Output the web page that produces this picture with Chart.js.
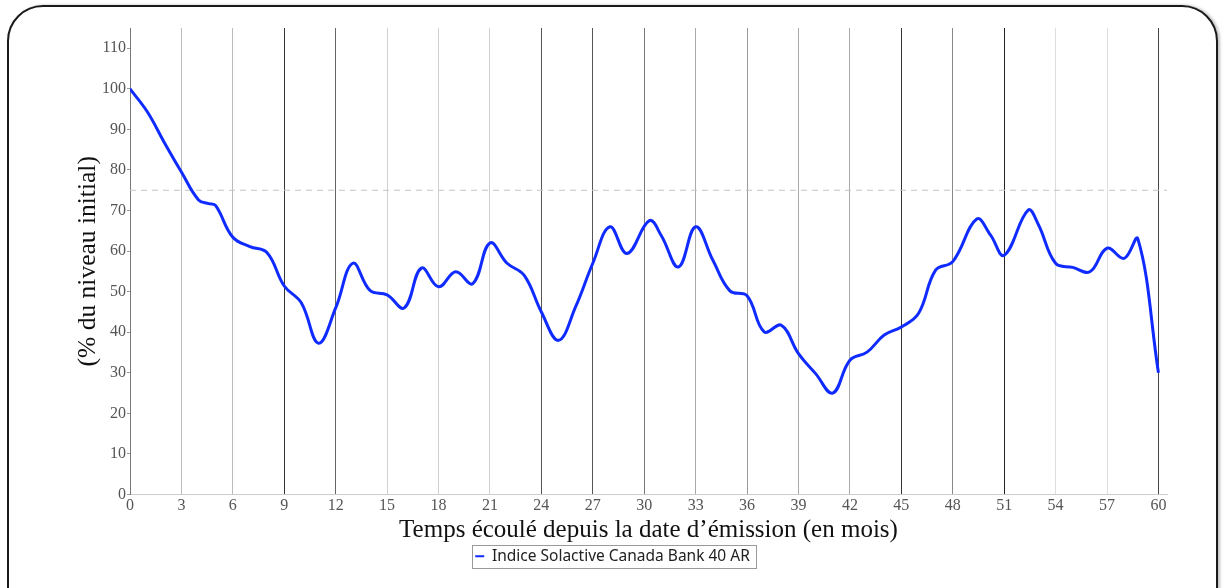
<!DOCTYPE html>
<html>
<head>
<meta charset="utf-8">
<script src="https://cdn.jsdelivr.net/npm/chart.js@4"></script>
<style>
  html, body { margin: 0; padding: 0; background: #fff; overflow: hidden; }
  #frame {
    position: absolute; left: 7px; top: 5px; width: 1211px; height: 640px;
    border: 2px solid #1a1a1a; border-radius: 36px; box-sizing: border-box;
    box-shadow: 2px 0 3px rgba(0,0,0,0.25);
  }
  #wrap { position: absolute; left: 0; top: 0; width: 1225px; height: 588px; }
</style>
</head>
<body>
<div id="frame"></div>
<div id="wrap"><canvas id="chart" width="1225" height="588"></canvas></div>
<script>
// months since issue and index level (% of initial level)
const months = [0, 1, 2, 3, 4, 4.6, 5, 6, 7, 8, 9, 10, 11, 12, 13, 14, 15, 16, 17, 18, 19, 20,
  21, 22, 23, 24, 25, 26, 27, 28, 29, 30.3, 31, 32, 33, 34, 35, 36, 37, 38, 39, 40, 41, 42,
  43, 44, 45, 46, 47, 48, 49.4, 50.2, 51, 52.4, 53, 54, 55, 56, 57, 58, 58.8, 60];
const levels = [100, 94.4, 86.8, 79.5, 72.6, 71.7, 71.2, 63.4, 61.1, 59.6, 51.4, 47.2, 37.3, 46, 57,
  50.3, 49.2, 46, 55.8, 51.2, 54.9, 52, 62, 57, 54, 45, 38, 46.3, 57, 66, 59.4, 67.5, 63.8,
  56.1, 66, 57.8, 50.2, 49, 40.1, 41.7, 34.7, 29.8, 25, 33.1, 35.1, 39.3, 41.3, 44.6, 55.3,
  57.4, 67.9, 64, 59, 70.1, 66.5, 57, 56, 54.9, 60.7, 58.2, 63, 30];

const barrierLevel = 75;
const monthTicks = [0, 3, 6, 9, 12, 15, 18, 21, 24, 27, 30, 33, 36, 39, 42, 45, 48, 51, 54, 57, 60];
const levelTicks = [0, 10, 20, 30, 40, 50, 60, 70, 80, 90, 100, 110];
const gridShades = ['#888', '#bbb', '#bbb', '#333', '#666', '#d0d0d0', '#d0d0d0', '#d0d0d0', '#555', '#555',
  '#777', '#aaa', '#999', '#aaa', '#aaa', '#333', '#888', '#222', '#ddd', '#ddd', '#444'];

const seriesLabel = 'Indice Solactive Canada Bank 40 AR';
const legendShift = 25;

const legendFrame = {
    id: 'legendFrame',
    afterLayout(chart) {
        // the legend sits a little right of the page centre
        const lg = chart.legend;
        if (!lg) return;
        lg.left += legendShift;
        lg.right += legendShift;
    },
    afterDraw(chart) {
        const boxes = chart.legend && chart.legend.legendHitBoxes;
        if (!boxes || !boxes.length) return;
        const b = boxes[0];
        const ctx = chart.ctx;
        ctx.save();
        ctx.strokeStyle = '#999';
        ctx.lineWidth = 1;
        ctx.strokeRect(Math.round(b.left) - 2.5, Math.round(b.top) - 3.5, Math.round(b.width) + 9, Math.round(b.height) + 7);
        ctx.restore();
    }
};

new Chart(document.getElementById('chart'), {
    type: 'line',
    data: {
        datasets: [{
            label: seriesLabel,
            data: months.map((m, i) => ({ x: m, y: levels[i] })),
            borderColor: '#0f2bff',
            backgroundColor: '#0f2bff',
            borderWidth: 3,
            pointRadius: 0,
            tension: 0.4,
            fill: false
        }, {
            label: 'barrier',
            data: [{ x: 0, y: barrierLevel }, { x: 60.5, y: barrierLevel }],
            borderColor: '#c4c4c4',
            borderWidth: 1,
            borderDash: [6, 5],
            pointRadius: 0,
            fill: false
        }]
    },
    options: {
        responsive: false,
        animation: false,
        layout: { padding: { left: 8, right: 58, top: 28, bottom: 14 } },
        scales: {
            x: {
                type: 'linear',
                min: 0,
                max: 60.5,
                afterBuildTicks: scale => { scale.ticks = monthTicks.map(v => ({ value: v })); },
                afterFit: scale => { scale.height = 50; },
                grid: {
                    color: ctx => gridShades[ctx.index] || '#ccc',
                    drawTicks: false
                },
                border: { color: '#ccc', width: 1 },
                ticks: {
                    autoSkip: false,
                    maxRotation: 0,
                    padding: 2,
                    color: '#555',
                    font: { family: 'Liberation Serif', size: 16 }
                },
                title: {
                    display: true,
                    text: 'Temps écoulé depuis la date d’émission (en mois)',
                    color: '#111',
                    font: { family: 'Liberation Serif', size: 25 },
                    padding: { top: 0, bottom: -1 }
                }
            },
            y: {
                min: 0,
                max: 115,
                afterBuildTicks: scale => { scale.ticks = levelTicks.map(v => ({ value: v })); },
                afterFit: scale => { scale.width = 122; },
                grid: { drawOnChartArea: false, tickLength: 3, color: '#999' },
                border: { color: '#777', width: 1 },
                ticks: {
                    padding: 1,
                    color: '#555',
                    font: { family: 'Liberation Serif', size: 16 }
                },
                title: {
                    display: true,
                    text: '(% du niveau initial)',
                    color: '#111',
                    font: { family: 'Liberation Serif', size: 25.5 },
                    padding: { top: 65, bottom: 0 }
                }
            }
        },
        plugins: {
            legend: {
                position: 'bottom',
                labels: {
                    boxWidth: 9,
                    boxHeight: 2,
                    padding: 4,
                    color: '#222',
                    font: { family: 'Noto Sans', size: 15.5 },
                    filter: item => item.datasetIndex === 0,
                    generateLabels: chart => Chart.defaults.plugins.legend.labels.generateLabels(chart)
                        .map(l => Object.assign(l, { lineWidth: 0 }))
                }
            },
            tooltip: { enabled: false }
        }
    },
    plugins: [legendFrame]
});
</script>
</body>
</html>
